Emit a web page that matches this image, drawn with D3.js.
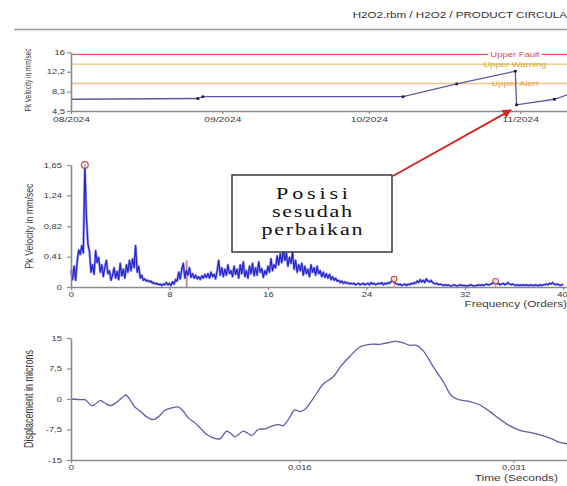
<!DOCTYPE html>
<html><head><meta charset="utf-8">
<script src="https://cdn.jsdelivr.net/npm/d3@7"></script>
<style>
html,body{margin:0;padding:0;background:#fff;overflow:hidden}
svg{display:block;font-family:"Liberation Sans",Arial,sans-serif}
</style></head><body>
<svg id="c" width="567" height="486"></svg>
<script>
// ---- data ----
const headerTitle = "H2O2.rbm / H2O2 / PRODUCT CIRCULA";

// Trend of overall peak velocity (mm/sec)
const trendDates = ["2024-08-01T00:00","2024-08-27T00:00","2024-08-28T00:00","2024-10-08T00:00",
  "2024-10-19T00:00","2024-10-31T00:00","2024-10-31T06:00","2024-11-08T00:00","2024-11-11T00:00"];
const trendValues = [6.8, 6.95, 7.3, 7.3, 9.8, 12.3, 5.7, 6.8, 7.8];
const limitNames = ["Upper Fault", "Upper Warning", "Upper Alert"];
const limitValues = [15.6, 13.65, 9.9];
const trendTickDates = ["2024-08-01T00:00","2024-09-01T00:00","2024-10-01T00:00","2024-11-01T00:00"];
const trendTickLabels = ["08/2024","09/2024","10/2024","11/2024"];
const trendYTicks = [4.5, 8.3, 12.2, 16];

// Spectrum: peak velocity (mm/sec), one value every 1/8 order from 0 to 40 orders
const spectrumStep = 0.125;
const spectrumValues = [
  0.22,0.10,0.28,0.09,0.34,0.50,0.44,0.56,
  0.46,1.65,0.95,0.58,0.48,0.20,0.30,0.17,
  0.49,0.33,0.40,0.20,0.30,0.14,0.27,0.36,
  0.18,0.22,0.09,0.16,0.26,0.12,0.21,0.10,
  0.32,0.15,0.24,0.12,0.30,0.20,0.36,0.22,
  0.38,0.26,0.56,0.20,0.28,0.12,0.16,0.09,
  0.11,0.08,0.09,0.07,0.08,0.05,0.06,0.04,
  0.05,0.03,0.04,0.02,0.04,0.03,0.06,0.03,
  0.05,0.02,0.07,0.04,0.10,0.08,0.20,0.11,
  0.24,0.32,0.12,0.22,0.16,0.26,0.13,0.18,
  0.12,0.16,0.11,0.14,0.10,0.15,0.12,0.17,
  0.13,0.18,0.12,0.20,0.14,0.17,0.11,0.22,
  0.36,0.16,0.26,0.14,0.24,0.16,0.30,0.18,
  0.22,0.14,0.28,0.17,0.24,0.12,0.30,0.18,
  0.34,0.14,0.22,0.12,0.28,0.18,0.32,0.15,
  0.26,0.16,0.34,0.20,0.25,0.13,0.22,0.17,
  0.28,0.20,0.38,0.22,0.30,0.26,0.42,0.30,
  0.45,0.33,0.50,0.36,0.46,0.28,0.40,0.32,
  0.47,0.24,0.36,0.20,0.30,0.22,0.32,0.16,
  0.28,0.18,0.24,0.14,0.30,0.20,0.26,0.16,
  0.28,0.18,0.22,0.14,0.20,0.13,0.18,0.12,
  0.17,0.10,0.14,0.09,0.12,0.08,0.09,0.06,
  0.08,0.05,0.07,0.05,0.06,0.04,0.05,0.04,
  0.05,0.03,0.04,0.05,0.03,0.04,0.05,0.03,
  0.04,0.05,0.03,0.06,0.04,0.05,0.03,0.04,
  0.05,0.04,0.06,0.03,0.05,0.04,0.06,0.05,
  0.07,0.09,0.06,0.05,0.04,0.03,0.04,0.02,
  0.03,0.04,0.02,0.04,0.03,0.05,0.04,0.06,
  0.05,0.08,0.06,0.10,0.07,0.09,0.06,0.11,
  0.08,0.07,0.09,0.06,0.05,0.04,0.05,0.03,
  0.04,0.03,0.02,0.03,0.02,0.03,0.02,0.01,
  0.02,0.03,0.02,0.01,0.02,0.03,0.02,0.02,
  0.02,0.01,0.02,0.02,0.03,0.02,0.01,0.02,
  0.02,0.03,0.02,0.03,0.02,0.03,0.04,0.03,
  0.03,0.04,0.05,0.06,0.05,0.04,0.05,0.03,
  0.04,0.05,0.03,0.04,0.06,0.04,0.03,0.04,
  0.03,0.02,0.03,0.02,0.03,0.02,0.03,0.02,
  0.03,0.02,0.02,0.03,0.02,0.02,0.03,0.02,
  0.02,0.03,0.02,0.03,0.03,0.04,0.03,0.05,
  0.04,0.06,0.04,0.03,0.04,0.03,0.02,0.03,
  0.03
];
const peakMarkerOrders = [1.125, 26.25, 34.5];
const peakMarkerValues = [1.65, 0.08, 0.05];
const faultLineOrder = 9.4;
const faultLineValue = 0.36;
const spectrumXTicks = [0, 8, 16, 24, 32, 40];
const spectrumYTicks = [0, 0.41, 0.82, 1.24, 1.65];

// Time waveform: displacement (microns) against time (ms)
const waveTimeMs = [0,0.75,0.98,1.45,1.63,2.03,2.38,2.73,3.20,3.55,3.85,4.13,4.48,4.95,5.30,5.77,6.12,
  6.59,7.06,7.52,7.87,8.22,8.69,9.04,9.51,9.97,10.44,10.91,11.14,11.49,11.72,12.07,12.42,12.66,
  13.13,13.60,14.06,14.53,14.88,15.23,15.70,16.05,16.40,16.98,17.68,18.38,18.97,19.55,20.25,20.95,
  21.65,22.12,22.70,23.17,23.76,24.22,24.69,25.39,26.09,26.68,27.26,27.96,28.66,29.36,30.06,30.76,
  31.46,32.16,32.87,33.57,34.27,34.76];
const waveMicrons = [0,-0.16,-0.16,-1.63,-1.47,-0.41,-0.98,-1.63,-0.81,0.24,0.98,-0.16,-1.96,-3.26,
  -4.40,-5.05,-4.40,-2.77,-2.20,-1.96,-3.02,-4.65,-5.87,-7.09,-8.72,-9.54,-9.78,-7.91,-8.31,-9.29,
  -8.80,-7.91,-8.48,-8.96,-7.50,-7.33,-6.68,-6.28,-6.52,-5.05,-2.7,-3.1,-2.5,0.16,3.67,5.46,8.31,
  10.51,12.80,13.45,13.45,13.77,14.18,13.94,13.20,13.20,11.82,7.91,4.24,0.73,-0.24,-0.65,-1.47,
  -3.10,-4.97,-6.60,-7.74,-8.23,-8.80,-9.62,-10.68,-11.0];
const waveXTicks = [0, 16, 31];
const waveXLabels = ["0", "0,016", "0,031"];
const waveYTicks = [-15, -7.5, 0, 7.5, 15];

const calloutLines = ["Posisi", "sesudah", "perbaikan"];

// ---- drawing ----
const SX = 1.35;               // horizontal glyph stretch used for all sans labels
const AXIS = "#8a8a8a", TXT = "#3a3a3a";
const SANS = '"Liberation Sans",Arial,sans-serif';
const SERIF = '"Liberation Serif","Times New Roman",serif';
const comma = v => String(v).replace(".", ",");
const parse = d3.timeParse("%Y-%m-%dT%H:%M");
const svg = d3.select("#c");

function txt(g, x, y, s, size, anchor, fill) {
  return g.append("text").attr("transform", `translate(${x},${y}) scale(${SX},1)`)
    .attr("text-anchor", anchor || "start").style("font-family", SANS)
    .attr("font-size", size).attr("fill", fill || TXT).text(s);
}
function vtxt(g, x, y, s, size, len) {
  return g.append("text").attr("transform", `translate(${x},${y}) rotate(-90) scale(1,${SX})`)
    .attr("text-anchor", "middle").style("font-family", SANS).attr("font-size", size).attr("fill", TXT)
    .attr("textLength", len).attr("lengthAdjust", "spacingAndGlyphs").text(s);
}
function styleAxis(g, pad, orient) {
  g.select(".domain").attr("stroke", AXIS).attr("stroke-width", 1.6);
  g.selectAll(".tick line").attr("stroke", AXIS).attr("stroke-width", 1.2);
  g.selectAll(".tick text").attr("fill", TXT).attr("font-size", 7).style("font-family", SANS);
  if (orient === "left") {
    g.selectAll(".tick text").attr("x", 0).attr("dy", "0.32em")
      .attr("transform", `translate(${-pad},0) scale(${SX},1)`);
  } else {
    g.selectAll(".tick text").attr("y", 0).attr("dy", "0.71em")
      .attr("transform", `translate(0,${pad}) scale(${SX},1)`);
  }
}

// header
svg.append("line").attr("x1", 14).attr("x2", 567).attr("y1", 29.5).attr("y2", 29.5)
  .attr("stroke", "#9a9a9a").attr("stroke-width", 1.6);
txt(svg, 567, 18, headerTitle, 8.6, "end", "#333");

// ---- trend panel ----
const xT = d3.scaleTime().domain([parse("2024-08-01T00:00"), parse("2024-11-10T14:00")]).range([71, 567]);
const yT = d3.scaleLinear().domain([4.5, 16]).range([111, 52.3]);
const gT = svg.append("g");
svg.append("clipPath").attr("id", "clipT").append("rect").attr("x", 71).attr("y", 40).attr("width", 496).attr("height", 72);

const limitColors = ["#e05a5a", "#ecd089", "#f2c58a"];
const limitText = ["#e04848", "#d4a834", "#e8a24a"];
limitValues.forEach((v, i) => {
  gT.append("line").attr("x1", 71).attr("x2", 567).attr("y1", yT(v)).attr("y2", yT(v))
    .attr("stroke", limitColors[i]).attr("stroke-width", i === 0 ? 1.2 : 1.6);
  const t = txt(gT, 515, yT(v) + 2.6, limitNames[i], 7, "middle", limitText[i]);
  const w = t.node().getComputedTextLength() * SX;
  gT.insert("rect", "text").attr("x", 515 - w / 2 - 2).attr("y", yT(v) - 3.5)
    .attr("width", w + 4).attr("height", 7).attr("fill", "#fff");
});

const trend = trendDates.map((d, i) => ({ t: parse(d), v: trendValues[i] }));
const gTd = gT.append("g").attr("clip-path", "url(#clipT)");
gTd.append("path").datum(trend)
  .attr("d", d3.line().x(d => xT(d.t)).y(d => yT(d.v)))
  .attr("fill", "none").attr("stroke", "#5a5aa0").attr("stroke-width", 1.3);
gTd.selectAll("rect.pt").data(trend.slice(1)).join("rect").attr("class", "pt")
  .attr("x", d => xT(d.t) - 1.3).attr("y", d => yT(d.v) - 1.3).attr("width", 2.6).attr("height", 2.6)
  .attr("fill", "#1a1a2a");

const axTx = gT.append("g").attr("transform", "translate(0,111)")
  .call(d3.axisBottom(xT).tickValues(trendTickDates.map(parse)).tickFormat((d, i) => trendTickLabels[i])
    .tickSize(3).tickSizeOuter(0));
styleAxis(axTx, 6, "bottom");
axTx.selectAll(".tick text").attr("font-size", 7.6);
const axTy = gT.append("g").attr("transform", "translate(71,0)")
  .call(d3.axisLeft(yT).tickValues(trendYTicks).tickFormat(comma).tickSize(4).tickSizeOuter(0));
styleAxis(axTy, 6, "left");
vtxt(gT, 31, 80, "Pk Velocity in mm/sec", 6.6, 63);

// ---- spectrum panel ----
const xS = d3.scaleLinear().domain([0, 40.3]).range([71, 567]);
const yS = d3.scaleLinear().domain([0, 1.65]).range([287, 165]);
const gS = svg.append("g");
const spec = spectrumValues.map((v, i) => ({ o: i * spectrumStep, v }));
const specLine = d3.line().x(d => xS(d.o)).y(d => yS(d.v));

gS.append("line").attr("x1", xS(faultLineOrder)).attr("x2", xS(faultLineOrder))
  .attr("y1", yS(0)).attr("y2", yS(faultLineValue)).attr("stroke", "#d88a8a").attr("stroke-width", 2);
gS.append("path").datum(spec).attr("d", specLine).attr("fill", "none")
  .attr("stroke", "#8c8cf2").attr("stroke-width", 2.4).attr("stroke-linejoin", "round");
gS.append("path").datum(spec).attr("d", specLine).attr("fill", "none")
  .attr("stroke", "#2222c4").attr("stroke-width", 1.1).attr("stroke-linejoin", "round");
peakMarkerOrders.forEach((o, i) => {
  if (i > 0) gS.append("line").attr("x1", xS(o)).attr("x2", xS(o)).attr("y1", yS(peakMarkerValues[i]) - 5)
    .attr("y2", yS(0)).attr("stroke", "#d89090").attr("stroke-width", 1);
  gS.append("circle").attr("cx", xS(o)).attr("cy", yS(peakMarkerValues[i]) - (i === 0 ? 0 : 2))
    .attr("r", i === 0 ? 3.4 : 2.8).attr("fill", "#fff6f6").attr("fill-opacity", 0.6)
    .attr("stroke", "#c85050").attr("stroke-width", 1.2);
});

const axSx = gS.append("g").attr("transform", "translate(0,287)")
  .call(d3.axisBottom(xS).tickValues(spectrumXTicks).tickSize(3).tickSizeOuter(0));
styleAxis(axSx, 5, "bottom");
// the last label sits against the right edge
axSx.selectAll(".tick text").filter(d => d === 40).attr("text-anchor", "end")
  .attr("transform", `translate(4,5) scale(${SX},1)`);
const axSy = gS.append("g").attr("transform", "translate(71,0)")
  .call(d3.axisLeft(yS).tickValues(spectrumYTicks).tickFormat(comma).tickSize(4).tickSizeOuter(0));
styleAxis(axSy, 9, "left");
vtxt(gS, 33, 226, "Pk Velocity in mm/sec", 8.7, 85);
txt(gS, 567, 307, "Frequency (Orders)", 8.7, "end");

// ---- waveform panel ----
const xW = d3.scaleLinear().domain([0, 34.76]).range([71, 567]);
const yW = d3.scaleLinear().domain([-15, 15]).range([460, 338]);
const gW = svg.append("g");
const wave = waveTimeMs.map((t, i) => ({ t, v: waveMicrons[i] }));
gW.append("path").datum(wave)
  .attr("d", d3.line().curve(d3.curveCatmullRom.alpha(0.5)).x(d => xW(d.t)).y(d => yW(d.v)))
  .attr("fill", "none").attr("stroke", "#5e5ea8").attr("stroke-width", 1.3);
const axWx = gW.append("g").attr("transform", "translate(0,460)")
  .call(d3.axisBottom(xW).tickValues(waveXTicks).tickFormat((d, i) => waveXLabels[i]).tickSize(3).tickSizeOuter(0));
styleAxis(axWx, 5, "bottom");
const axWy = gW.append("g").attr("transform", "translate(71,0)")
  .call(d3.axisLeft(yW).tickValues(waveYTicks).tickFormat(comma).tickSize(4).tickSizeOuter(0));
styleAxis(axWy, 9, "left");
vtxt(gW, 33, 399, "Displacement in microns", 9, 98);
txt(gW, 558, 481, "Time (Seconds)", 8.8, "end");

// ---- callout box with arrow ----
const defs = svg.append("defs");
defs.append("marker").attr("id", "arrowHead").attr("viewBox", "0 0 10 10").attr("refX", 9).attr("refY", 5)
  .attr("markerWidth", 5.5).attr("markerHeight", 4.5).attr("orient", "auto").attr("markerUnits", "strokeWidth")
  .append("path").attr("d", "M0,0 L10,5 L0,10 Z").attr("fill", "#d42424");
const gC = svg.append("g");
gC.append("rect").attr("x", 232).attr("y", 175).attr("width", 160).attr("height", 77)
  .attr("fill", "#fff").attr("stroke", "#2a2a2a").attr("stroke-width", 1.4);
gC.append("line").attr("x1", 393).attr("y1", 176).attr("x2", 511).attr("y2", 110)
  .attr("stroke", "#d42424").attr("stroke-width", 2).attr("marker-end", "url(#arrowHead)");
const lineY = [199, 217, 235], lineLen = [72, 80, 101];
calloutLines.forEach((s, i) => {
  gC.append("text").attr("transform", `translate(312,${lineY[i]}) scale(1.3,1)`)
    .attr("text-anchor", "middle").style("font-family", SERIF)
    .attr("font-size", 17).attr("fill", "#111")
    .attr("textLength", lineLen[i] / 1.3).attr("lengthAdjust", "spacing").text(s);
});
</script>
</body></html>
